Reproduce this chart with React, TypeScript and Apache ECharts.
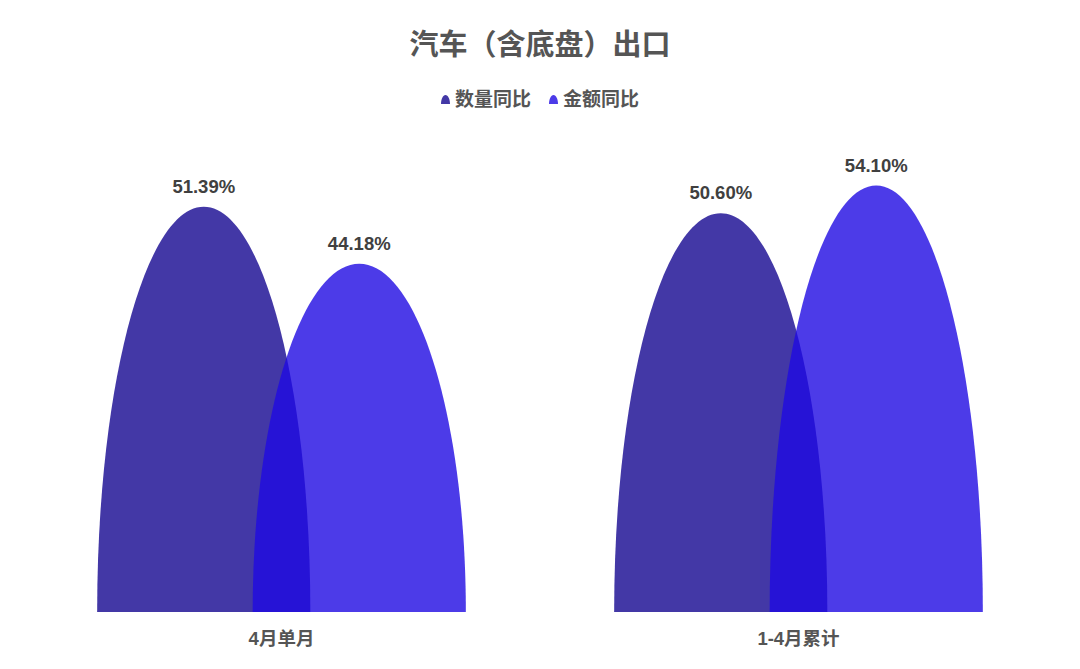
import * as echarts from 'echarts';
import { useEffect, useRef } from 'react';

const categories = ['4月单月', '1-4月累计'];
const seriesNames = ['数量同比', '金额同比'];
const quantityYoY = [51.39, 50.6];
const amountYoY = [44.18, 54.1];

// half-ellipse bullet shape
const DOME = 'path://M0,100 C0,44.77 22.39,0 50,0 C77.61,0 100,44.77 100,100 Z';
const FONT = '"Liberation Sans", Arial, "Noto Sans CJK SC", sans-serif';

const App = () => {
  const chartRef = useRef<HTMLDivElement>(null);

  useEffect(() => {
    if (!chartRef.current) return;
    const chart = echarts.init(chartRef.current, undefined, { renderer: 'svg' });

    const label = {
      show: true,
      position: 'top',
      distance: 11,
      color: '#404040',
      fontSize: 18.5,
      fontWeight: 'bold',
      fontFamily: FONT,
      formatter: (p: { value: number }) => `${p.value.toFixed(2)}%`,
    };

    const option = {
      animation: false,
      title: {
        text: '汽车（含底盘）出口',
        left: 'center',
        top: 17,
        textStyle: { color: '#555555', fontSize: 29, fontWeight: 'bold', fontFamily: FONT },
      },
      legend: {
        top: 77,
        left: 'center',
        itemWidth: 9,
        itemHeight: 10,
        itemGap: 18,
        textStyle: { color: '#555555', fontSize: 19, fontWeight: 'bold', fontFamily: FONT },
        data: seriesNames.map((name) => ({ name, icon: DOME })),
      },
      grid: { left: 15, right: 15, top: 131, bottom: 49 },
      xAxis: {
        type: 'category',
        data: categories,
        axisLine: { show: false },
        axisTick: { show: false },
        axisLabel: {
          margin: 17,
          color: '#555555',
          fontSize: 18.5,
          fontWeight: 'bold',
          fontFamily: FONT,
        },
      },
      yAxis: {
        type: 'value',
        min: 0,
        max: 60,
        show: false,
        splitLine: { show: false },
      },
      series: [
        {
          name: seriesNames[0],
          type: 'pictorialBar',
          symbol: DOME,
          barWidth: '41.2%',
          barGap: '-27%',
          itemStyle: { color: 'rgb(67,56,166)' },
          label,
          data: quantityYoY,
          z: 2,
        },
        {
          name: seriesNames[1],
          type: 'pictorialBar',
          symbol: DOME,
          barWidth: '41.2%',
          barGap: '-27%',
          itemStyle: { color: 'rgba(31,10,226,0.8)' },
          label,
          data: amountYoY,
          z: 3,
        },
      ],
    };

    chart.setOption(option);
    const handleResize = () => chart.resize();
    window.addEventListener('resize', handleResize);
    return () => {
      window.removeEventListener('resize', handleResize);
      chart.dispose();
    };
  }, []);

  return <div ref={chartRef} style={{ width: '100%', height: 653 }} />;
};

export default App;
